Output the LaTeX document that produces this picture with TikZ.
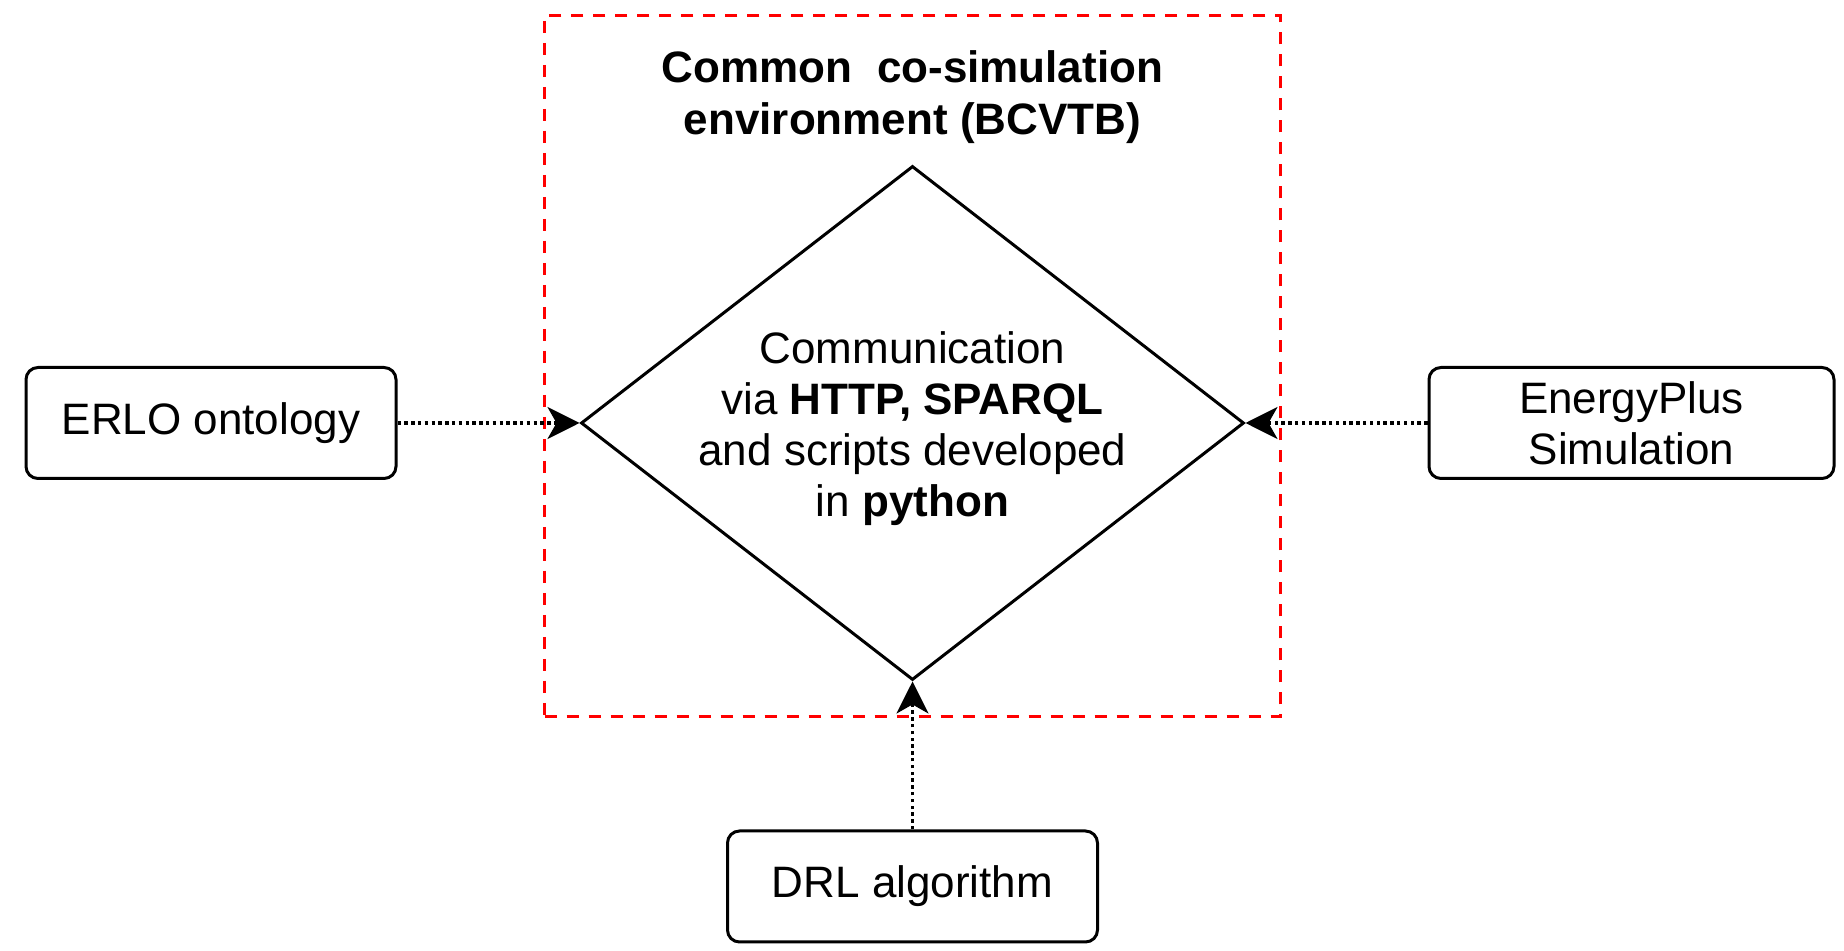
\documentclass[tikz,border=0pt]{standalone}
\usepackage{fontspec}
\setmainfont{Liberation Sans}
\usepackage{xcolor}
\usepackage{tikz}
\usetikzlibrary{positioning, arrows.meta, shapes.geometric, fit}

\begin{document}
\begin{tikzpicture}[
    >=Stealth,
    srcbox/.style={rectangle, rounded corners=6pt, draw=black, line width=1.5pt,
        minimum width=185pt, minimum height=55.5pt, align=center, inner sep=4pt,
        font=\fontsize{22pt}{25.5pt}\selectfont},
    feed/.style={line width=1.6pt, dash pattern=on 1.7pt off 1.7pt,
        -{Stealth[length=16pt, width=16pt, inset=4.5pt]}},
]

% ── Colors ──
\definecolor{envborder}{HTML}{FF0000}

% ── Canvas ──
\useasboundingbox (0,0) rectangle (922pt,-475.5pt);

% ══════════════════════════════════════════════
% Centre: communication hub + environment title
% ══════════════════════════════════════════════
\node[diamond, draw=black, line width=1.5pt, inner sep=0pt,
    minimum width=331.5pt, minimum height=257pt] (hub) at (456.25pt,-211.5pt) {};
\node[align=center, yshift=-3pt, font=\fontsize{22pt}{25.5pt}\selectfont]
    (hubtext) at (hub) {Communication\\via \textbf{HTTP, SPARQL}\\and scripts developed\\in \textbf{python}};

\node[align=center, inner sep=0pt, font=\fontsize{22pt}{26pt}\selectfont\bfseries,
    above=10pt of hub] (title) {Common\ \ co-simulation\\environment (BCVTB)};

% dashed environment frame
\node[rectangle, draw=envborder, line width=1.5pt, dash pattern=on 6pt off 5pt,
    inner sep=17.5pt, fit=(hub)(title)] (envbox) {};

% ══════════════════════════════════════════════
% Sources around the hub
% ══════════════════════════════════════════════
\node[srcbox, left=91pt of hub] (erlo) {ERLO ontology};
\node[srcbox, minimum width=202.5pt, right=91pt of hub] (eplus) {EnergyPlus\\Simulation};
\node[srcbox, below=74pt of hub] (drl) {DRL algorithm};

% ══════════════════════════════════════════════
% Dotted links into the hub
% ══════════════════════════════════════════════
\draw[feed] (erlo) -- (hub.west);
\draw[feed] (eplus) -- (hub.east);
\draw[feed] (drl) -- (hub.south);

\end{tikzpicture}
\end{document}
